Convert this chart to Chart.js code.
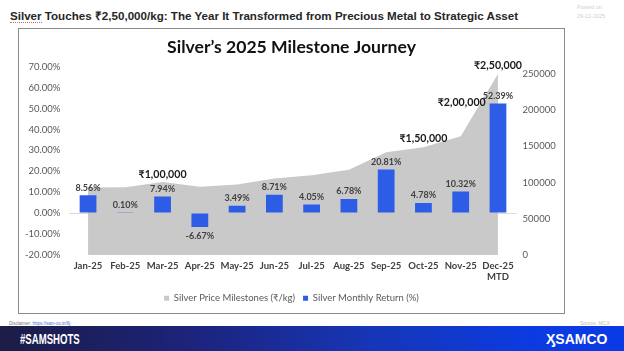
<!DOCTYPE html>
<html>
<head>
<meta charset="utf-8">
<script src="https://cdn.jsdelivr.net/npm/chart.js@4/dist/chart.umd.min.js"></script>
<style>
  body { margin: 0; width: 624px; height: 351px; background: #fff; position: relative; overflow: hidden; font-family: "Liberation Sans", Arial, sans-serif; }
  #head { position: absolute; left: 10px; top: 8px; font-weight: bold; font-size: 11.6px; color: #262626; white-space: nowrap; }
  #head .sq { border-bottom: 1px dotted #d66; }
  #posted { position: absolute; left: 577px; top: 3px; font-size: 5.5px; line-height: 9px; color: #d0d0d0; }
  #box { position: absolute; left: 18px; top: 28px; width: 547px; height: 286px; border: 1px solid #8a8a8a; box-sizing: border-box; }
  #disc { position: absolute; left: 9px; top: 321px; font-size: 4.5px; color: #777; }
  #disc span { color: #4a6fd0; text-decoration: underline; }
  #src { position: absolute; left: 580px; top: 320px; font-size: 5px; color: #bbb; }
  #band { position: absolute; left: 0; top: 326px; width: 624px; height: 25px;
    background: linear-gradient(90deg, #1d1c46 0%, #1c237a 30%, #1636b8 60%, #0b3be0 85%, #0a3ae6 100%); }
  #tag { position: absolute; left: 20px; top: 4px; color: #fff; font-family: "Liberation Sans", sans-serif; font-weight: bold; font-size: 15px; transform: scaleX(0.64); transform-origin: 0 0; }
  #logo { position: absolute; left: 546px; top: 5px; color: #fff; font-family: "Liberation Sans", sans-serif; font-weight: bold; font-size: 14px; }
</style>
</head>
<body>
<div id="head"><span class="sq">Silver</span> Touches ₹2,50,000/kg:  The Year It Transformed from Precious Metal to Strategic Asset</div>
<div id="posted">Posted on<br>29-12-2025</div>
<div id="box"><canvas id="c" width="545" height="284"></canvas></div>
<div id="disc">Disclaimer: <span>https://sam-co.in/6j</span></div>
<div id="src">Source: MCX</div>
<div id="band"><div id="tag">#SAMSHOTS</div><div id="logo">ӼSAMCO</div></div>
<script>
var months = ['Jan-25', 'Feb-25', 'Mar-25', 'Apr-25', 'May-25', 'Jun-25', 'Jul-25', 'Aug-25', 'Sep-25', 'Oct-25', 'Nov-25', ['Dec-25', 'MTD']];
var priceLevel = [93200, 93300, 100700, 94000, 97300, 105700, 110000, 117500, 141900, 148700, 164100, 250000];
var monthlyReturn = [8.56, 0.10, 7.94, -6.67, 3.49, 8.71, 4.05, 6.78, 20.81, 4.78, 10.32, 52.39];
var milestoneValue = [null, null, 100000, null, null, null, null, null, null, 150000, 200000, 250000];
var milestoneText = ['', '', '₹1,00,000', '', '', '', '', '', '', '₹1,50,000', '₹2,00,000', '₹2,50,000'];
var returnTicks = [-20, -10, 0, 10, 20, 30, 40, 50, 60, 70];
var priceTicks = [0, 50000, 100000, 150000, 200000, 250000];

var FONT = 'Lato, "Noto Sans", sans-serif';

// value labels on bars + rupee milestones over the area
var labelPlugin = {
  id: 'labels',
  afterDatasetsDraw: function(chart) {
    var ctx = chart.ctx;
    ctx.save();
    var bars = chart.getDatasetMeta(1);
    ctx.font = 'bold 9px ' + FONT;
    ctx.fillStyle = '#404040';
    ctx.textAlign = 'center';
    bars.data.forEach(function(bar, i) {
      var v = monthlyReturn[i];
      if (v >= 0) {
        ctx.textBaseline = 'bottom';
        ctx.fillText(v.toFixed(2) + '%', bar.x, bar.y - 3);
      } else {
        ctx.textBaseline = 'top';
        ctx.fillText(v.toFixed(2) + '%', bar.x, bar.y + 5);
      }
    });
    var yr = chart.scales.y2, xs = chart.scales.x;
    ctx.font = 'bold 10.6px ' + FONT;
    ctx.fillStyle = '#1a1a1a';
    ctx.textBaseline = 'middle';
    milestoneValue.forEach(function(m, i) {
      if (m == null) return;
      ctx.fillText(milestoneText[i], xs.getPixelForValue(i) + (i == 10 ? 1 : 0), yr.getPixelForValue(m) - 8);
    });
    ctx.restore();
  }
};

var chart = new Chart(document.getElementById('c').getContext('2d'), {
  data: {
    labels: months,
    datasets: [
      {
        type: 'line',
        label: 'Silver Price Milestones (₹/kg)',
        data: priceLevel,
        yAxisID: 'y2',
        fill: 'origin',
        backgroundColor: '#c9c9c9',
        borderColor: '#c9c9c9',
        borderWidth: 0,
        pointRadius: 0,
        tension: 0,
        order: 2
      },
      {
        type: 'bar',
        label: 'Silver Monthly Return (%)',
        data: monthlyReturn,
        yAxisID: 'y',
        backgroundColor: '#2d5de6',
        barPercentage: 0.45,
        categoryPercentage: 1,
        order: 1
      }
    ]
  },
  options: {
    responsive: false,
    animation: false,
    devicePixelRatio: 1,
    layout: { padding: 0 },
    plugins: {
      title: {
        display: true,
        text: 'Silver’s 2025 Milestone Journey',
        color: '#111',
        font: { family: FONT, size: 17.6, weight: 'bold' },
        padding: { top: 8, bottom: 8.6 }
      },
      legend: {
        position: 'bottom',
        labels: {
          color: '#595959',
          font: { family: FONT, size: 9.5 },
          boxWidth: 5,
          boxHeight: 5,
          padding: 8,
          sort: function(a, b) { return a.datasetIndex - b.datasetIndex; }
        }
      },
      tooltip: { enabled: false }
    },
    scales: {
      x: {
        grid: { display: false, drawTicks: false },
        border: { display: false },
        ticks: { color: '#404040', font: { family: FONT, size: 9.5, weight: 'bold' }, padding: 5.3, maxRotation: 0, autoSkip: false },
        afterFit: function(s) { s.height = 30.6; }
      },
      y: {
        position: 'left',
        min: -20,
        max: 70,
        z: 1,
        afterBuildTicks: function(s) { s.ticks = returnTicks.map(function(v) { return { value: v }; }); },
        grid: {
          drawTicks: false,
          color: function(c) { return c.tick && c.tick.value === 0 ? '#d9d9d9' : 'rgba(0,0,0,0)'; }
        },
        border: { display: false },
        ticks: {
          color: '#595959',
          font: { family: FONT, size: 9.5 },
          padding: 9,
          callback: function(v) { return v.toFixed(2) + '%'; }
        },
        afterFit: function(s) { s.width = 50.4; }
      },
      y2: {
        position: 'right',
        min: 0,
        max: 260000,
        afterBuildTicks: function(s) { s.ticks = priceTicks.map(function(v) { return { value: v }; }); },
        grid: { display: false, drawTicks: false },
        border: { display: false },
        ticks: {
          color: '#595959',
          font: { family: FONT, size: 9.5 },
          padding: 6,
          callback: function(v) { return String(v); }
        },
        afterFit: function(s) { s.width = 47.4; }
      }
    }
  },
  plugins: [labelPlugin]
});
</script>
</body>
</html>
